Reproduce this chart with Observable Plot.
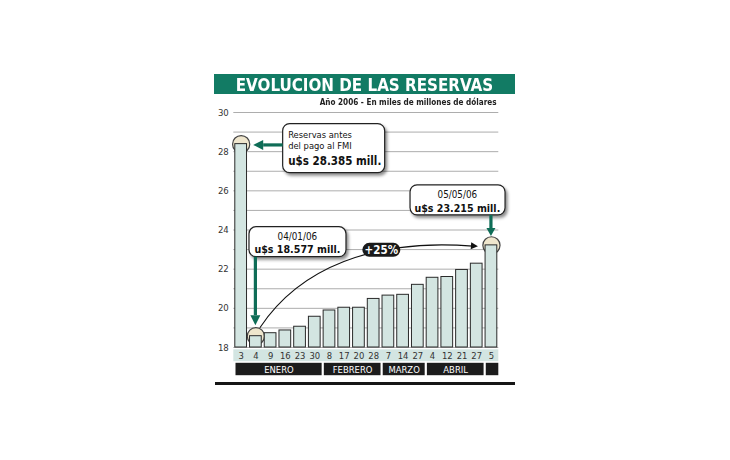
<!DOCTYPE html>
<html><head><meta charset="utf-8">
<script src="https://cdn.jsdelivr.net/npm/d3@7"></script>
<script src="https://cdn.jsdelivr.net/npm/@observablehq/plot@0.6"></script>
<style>
body{margin:0;background:#fff;width:730px;height:460px;position:relative;overflow:hidden;font-family:"DejaVu Sans Condensed","DejaVu Sans",sans-serif}
#title{position:absolute;left:214px;top:74px;width:301px;height:20px;background:#127b64;color:#fff;font-weight:bold;font-size:18.5px;line-height:21px;text-align:center;white-space:nowrap}
#title span{display:inline-block;transform:scaleX(0.91);transform-origin:center}
#sub{position:absolute;right:233px;top:97px;font-size:9px;line-height:11px;font-weight:bold;color:#222;white-space:nowrap;transform-origin:right center;transform:scaleX(0.9)}
#chart{position:absolute;left:0;top:98px}
#rule{position:absolute;left:215px;top:381.5px;width:300px;height:3px;background:#151515}
</style></head><body>
<div id="title"><span>EVOLUCION DE LAS RESERVAS</span></div>
<div id="sub">Año 2006 - En miles de millones de dólares</div>
<div id="chart"></div>
<div id="rule"></div>
<script>
// ---- data ----
const days = ["3","4","9","16","23","30","8","17","20","28","7","14","27","4","12","21","27","5"];
const reserves = [28.385,18.577,18.73,18.87,19.06,19.57,19.89,20.03,20.03,20.48,20.65,20.69,21.2,21.56,21.6,21.96,22.28,23.215];
const months = ["ENERO","FEBRERO","MARZO","ABRIL",""];
const monthDays = [6,4,3,4,1];
const yTicks = [18,20,22,24,26,28,30];
const gridValues = [18,19,20,21,22,23,24,25,26,27,28,29,30];
const highlighted = [0,1,17];
const noteFMI = ["Reservas antes","del pago al FMI","u$s 28.385 mill."];
const noteStart = ["04/01/06","u$s 18.577 mill."];
const noteEnd = ["05/05/06","u$s 23.215 mill."];
const growthLabel = "+25%";

// ---- tables ----
const rows = days.map((d,i)=>({i, day:d, value:reserves[i]}));
let acc = 0;
const monthRows = months.map((m,k)=>{const r={name:m,start:acc,end:acc+monthDays[k]}; acc+=monthDays[k]; return r;});
const hiRows = highlighted.map(i=>rows[i]);

const FONT = '"DejaVu Sans Condensed","DejaVu Sans",sans-serif';
const W=730, H=292, MT=14, MB=43, ML=233.3, MR=231.7;
const Y0 = 18, Y1 = 30;
const ppu = (H-MT-MB)/(Y1-Y0);
const below = p => Y0 - p/ppu;   // value at p pixels below the baseline
const GREEN = "#0f6d57";

function callouts(index, scales) {
  const x = scales.x, y = scales.y;
  const px = i => x(i+0.5);
  const g = d3.create("svg:g").attr("font-family", FONT);
  const defs = g.append("defs");
  const f = defs.append("filter").attr("id","sh").attr("x","-20%").attr("y","-20%").attr("width","150%").attr("height","160%");
  f.append("feDropShadow").attr("dx",2).attr("dy",2.5).attr("stdDeviation",1.6).attr("flood-color","#000").attr("flood-opacity",0.45);

  const A0 = [px(0), y(reserves[0])], A1 = [px(1), y(reserves[1])], A17 = [px(17), y(reserves[17])];

  function box(x0,y0,w,h){
    g.append("rect").attr("x",x0).attr("y",y0).attr("width",w).attr("height",h).attr("rx",7)
      .attr("fill","#fff").attr("stroke","#222").attr("stroke-width",1.2).attr("filter","url(#sh)");
  }
  function arrow(x1,y1,x2,y2,head,wid){
    const dx=x2-x1, dy=y2-y1, L=Math.hypot(dx,dy), ux=dx/L, uy=dy/L, nx=-uy, ny=ux;
    const bx=x2-ux*head, by=y2-uy*head;
    g.append("line").attr("x1",x1).attr("y1",y1).attr("x2",bx).attr("y2",by).attr("stroke",GREEN).attr("stroke-width",3.2);
    g.append("path").attr("d",`M${x2},${y2}L${bx+nx*wid},${by+ny*wid}L${bx-nx*wid},${by-ny*wid}Z`).attr("fill",GREEN);
  }

  // curve from start point to end point
  const s=[A1[0]+4.5, A1[1]-8], e=[A17[0]-13, A17[1]+1.5];
  const c1=[s[0]+40, s[1]-60], c2=[e[0]-105, e[1]-8];
  g.append("path").attr("d",`M${s}C${c1} ${c2} ${e[0]-5},${e[1]-0.2}`).attr("fill","none").attr("stroke","#111").attr("stroke-width",1.1);
  {
    const ux=e[0]-c2[0], uy=e[1]-c2[1], L=Math.hypot(ux,uy), a=[ux/L,uy/L], n=[-a[1],a[0]];
    const b=[e[0]-a[0]*7, e[1]-a[1]*7];
    g.append("path").attr("d",`M${e}L${b[0]+n[0]*3.5},${b[1]+n[1]*3.5}L${b[0]-n[0]*3.5},${b[1]-n[1]*3.5}Z`).attr("fill","#111");
  }
  // pill
  const pc=[A17[0]-109.6, A17[1]+5];
  g.append("rect").attr("x",pc[0]-19).attr("y",pc[1]-7).attr("width",38).attr("height",14).attr("rx",7).attr("fill","#1a1a1a");
  g.append("text").attr("x",pc[0]).attr("y",pc[1]+4).attr("text-anchor","middle").attr("fill","#fff")
    .attr("font-weight","bold").attr("font-size",11.5).text(growthLabel);

  // box 1
  box(A0[0]+42, A0[1]-20, 102, 49);
  arrow(A0[0]+42, A0[1]+1.3, A0[0]+12.5, A0[1]+1.3, 10, 5);
  const t1 = g.append("g").attr("fill","#111").attr("text-anchor","start");
  t1.append("text").attr("x",A0[0]+47.5).attr("y",A0[1]-5.4).attr("font-size",9.3).text(noteFMI[0]);
  t1.append("text").attr("x",A0[0]+47.5).attr("y",A0[1]+5.6).attr("font-size",9.3).text(noteFMI[1]);
  t1.append("text").attr("x",A0[0]+47.5).attr("y",A0[1]+21.3).attr("font-size",11.5).attr("font-weight","bold").text(noteFMI[2]);

  // box 2
  box(A1[0]-6.4, A1[1]-109, 97, 30);
  arrow(A1[0], A1[1]-79, A1[0], A1[1]-10.5, 10, 5);
  g.append("text").attr("x",A1[0]+42).attr("y",A1[1]-95.7).attr("text-anchor","middle").attr("font-size",9.8).attr("fill","#111").text(noteStart[0]);
  g.append("text").attr("x",A1[0]+42).attr("y",A1[1]-82.7).attr("text-anchor","middle").attr("font-size",10.6).attr("font-weight","bold").attr("fill","#111").text(noteStart[1]);

  // box 3
  box(A17[0]-80.9, A17[1]-60, 95, 30);
  arrow(A17[0], A17[1]-30, A17[0], A17[1]-8.8, 8, 4.5);
  g.append("text").attr("x",A17[0]-33.6).attr("y",A17[1]-46.6).attr("text-anchor","middle").attr("font-size",9.8).attr("fill","#111").text(noteEnd[0]);
  g.append("text").attr("x",A17[0]-33.6).attr("y",A17[1]-33.2).attr("text-anchor","middle").attr("font-size",10.6).attr("font-weight","bold").attr("fill","#111").text(noteEnd[1]);
  return g.node();
}

const chart = Plot.plot({
  width: W, height: H,
  marginTop: MT, marginBottom: MB, marginLeft: ML, marginRight: MR,
  style: {fontFamily: FONT, background: "transparent", overflow: "visible", color: "#333"},
  x: {domain: [0, days.length], axis: null},
  y: {domain: [Y0, Y1], axis: null},
  marks: [
    Plot.ruleY(gridValues, {stroke: "#adadad", strokeWidth: 1}),
    Plot.axisY(yTicks, {tickSize: 0, tickPadding: 5, fontSize: 9.5, fill: "#333", label: null}),
    Plot.rect([{a: 0, b: days.length}], {x1: "a", x2: "b", y1: below(2.3), y2: below(14.2), fill: "#d3e5e2"}),
    Plot.rect(monthRows, {x1: "start", x2: "end", y1: below(15.8), y2: below(28.2), fill: "#1c1c1c", insetLeft: 2.2}),
    Plot.text(rows, {x: d => d.i + 0.5, y: below(8.5), text: "day", fontSize: 9.4, fill: "#333"}),
    Plot.text(monthRows, {x: d => (d.start + d.end) / 2, y: below(22), text: "name", fontSize: 9.4, fill: "#fff", dx: 1}),
    Plot.dot(hiRows, {x: d => d.i + 0.5, y: "value", r: 8.6, fill: "#efe6cd", stroke: "#444", strokeWidth: 1.2}),
    Plot.rect(rows, {x1: "i", x2: d => d.i + 1, y1: Y0, y2: "value", fill: "#d3e5e1", stroke: "#2a2a2a", strokeWidth: 1, insetLeft: 1.5, insetRight: 1.5}),
    callouts
  ]
});
document.getElementById("chart").appendChild(chart);
</script>
</body></html>
